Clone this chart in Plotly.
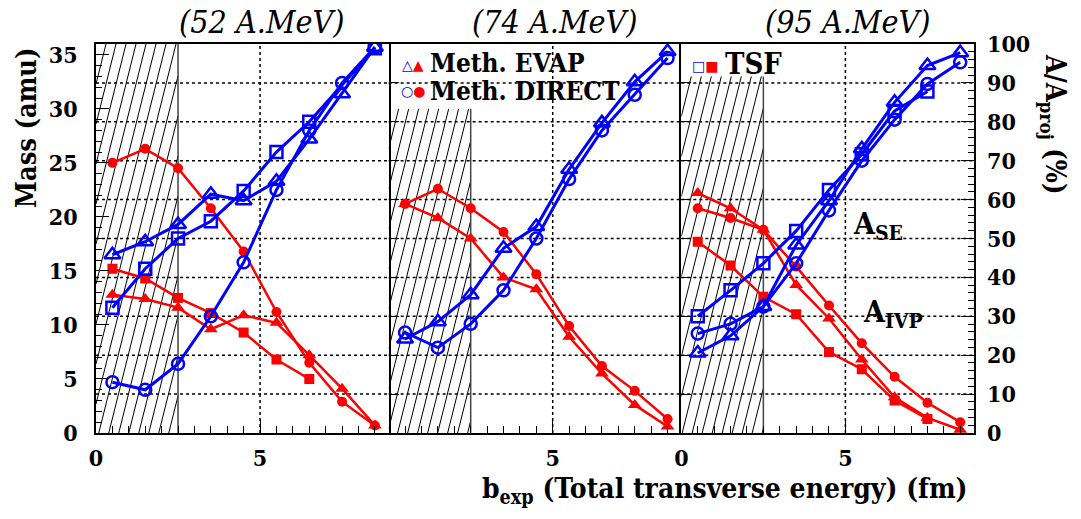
import plotly.graph_objects as go

# ---------------- data (mass in amu) ----------------
b_exp = [0.5, 1.5, 2.5, 3.5, 4.5, 5.5, 6.5, 7.5, 8.5]
energies = ["(52 A.MeV)", "(74 A.MeV)", "(95 A.MeV)"]

# 52 A.MeV
e52_evap_se = [16.5, 17.7, 19.3, 22.1, 21.5, 23.3, 27.2, 31.4, 35.7]
e52_evap_ivp = [12.8, 12.4, 11.6, 9.6, 10.9, 10.2, 7.2, 4.1, 0.7]
e52_direct_se = [4.7, 4.0, 6.4, 10.8, 15.8, 22.5, 28.0, 32.4, 35.7]
e52_direct_ivp = [25.0, 26.3, 24.5, 20.8, 16.8, 11.2, 6.5, 2.9, 0.7]
e52_tsf_se = [11.6, 15.2, 18.0, 19.6, 22.4, 26.0, 28.8, None, 35.6]
e52_tsf_ivp = [15.2, 14.3, 12.5, 11.1, 9.3, 6.8, 5.0, None, None]

# 74 A.MeV
e74_evap_se = [8.7, 10.3, 12.8, 17.1, 19.1, 24.4, 28.7, 32.5, 35.3]
e74_evap_ivp = [21.2, 19.9, 18.0, 14.4, 13.3, 8.9, 5.5, 2.6, 0.6]
e74_direct_se = [9.3, 7.9, 10.1, 13.2, 18.0, 23.5, 28.0, 31.3, 34.7]
e74_direct_ivp = [21.2, 22.6, 20.8, 18.6, 14.7, 9.9, 6.2, 3.9, 1.3]

# 95 A.MeV
e95_evap_se = [7.4, 9.0, 11.7, 17.4, 21.5, 26.3, 30.6, 34.0, 35.2]
e95_evap_ivp = [22.2, 20.8, 18.8, 13.7, 10.6, 6.8, 3.3, 1.4, 0.3]
e95_direct_se = [9.2, 10.1, 11.7, 15.7, 20.6, 25.2, 29.0, 32.3, 34.3]
e95_direct_ivp = [20.8, 19.9, 18.8, 15.4, 11.8, 8.3, 5.2, 2.8, 1.0]
e95_tsf_se = [10.8, 13.2, 15.7, 18.7, 22.5, 25.8, 29.8, 31.6, None]
e95_tsf_ivp = [17.7, 15.5, 12.6, 11.0, 7.5, 5.9, 3.0, 1.3, None]

A_PROJ = 36.0
mass_range = [0, 36.0]
pct_range = [0, 100]
pct_ticks = [10, 20, 30, 40, 50, 60, 70, 80, 90]
x_range = [0, 8.92]
hatch_xmax = 2.5
hatch_tops = [36.0, 30.0, 33.0]

# ---------------- geometry ----------------
W, H = 1081, 519
ML, MR, MT, MB = 96, 107, 44, 86
PW, PH = W - ML - MR, H - MT - MB


def px(xp):
    return (xp - ML) / PW


def py(yp):
    return 1 - (yp - MT) / PH


FONT = "DejaVu Serif Condensed, DejaVu Serif, serif"
BLUE = "#0000ff"
RED = "#ff0000"

fig = go.Figure()

panels = [
    dict(se=[("evap", e52_evap_se), ("direct", e52_direct_se), ("tsf", e52_tsf_se)],
         ivp=[("evap", e52_evap_ivp), ("direct", e52_direct_ivp), ("tsf", e52_tsf_ivp)]),
    dict(se=[("evap", e74_evap_se), ("direct", e74_direct_se)],
         ivp=[("evap", e74_evap_ivp), ("direct", e74_direct_ivp)]),
    dict(se=[("evap", e95_evap_se), ("direct", e95_direct_se), ("tsf", e95_tsf_se)],
         ivp=[("evap", e95_evap_ivp), ("direct", e95_direct_ivp), ("tsf", e95_tsf_ivp)]),
]

open_sym = {"evap": ("triangle-up-open", 14), "direct": ("circle-open", 12), "tsf": ("square-open", 12)}
fill_sym = {"evap": ("triangle-up", 12), "direct": ("circle", 10), "tsf": ("square", 10)}

# hatch decoration
pix_x_per_unit = PW / 3 / (x_range[1] - x_range[0])
pix_y_per_unit = PH / (mass_range[1] - mass_range[0])
k = 0.25 * pix_y_per_unit / pix_x_per_unit  # data-x shift per amu
spacing = 10.0 / pix_x_per_unit

for i, p in enumerate(panels):
    xa = "x" if i == 0 else f"x{i+1}"
    ya = "y" if i == 0 else f"y{i+1}"
    top = hatch_tops[i]
    hx, hy = [], []
    x0 = -k * top
    while x0 < hatch_xmax:
        ylo = max(0.0, (0.0 - x0) / k)
        yhi = min(top, (hatch_xmax - x0) / k)
        if ylo < yhi:
            hx += [x0 + k * ylo, x0 + k * yhi, None]
            hy += [ylo, yhi, None]
        x0 += spacing
    fig.add_trace(go.Scatter(x=hx, y=hy, mode="lines", xaxis=xa, yaxis=ya,
                             line=dict(color="black", width=1), hoverinfo="skip", showlegend=False))
    fig.add_trace(go.Scatter(x=[hatch_xmax, hatch_xmax], y=[0, top], mode="lines", xaxis=xa, yaxis=ya,
                             line=dict(color="#444444", width=1.5), hoverinfo="skip", showlegend=False))

    for meth, vals in p["ivp"]:
        sym, sz = fill_sym[meth]
        fig.add_trace(go.Scatter(x=b_exp, y=vals, mode="lines+markers", xaxis=xa, yaxis=ya,
                                 connectgaps=True,
                                 line=dict(color=RED, width=2.5),
                                 marker=dict(symbol=sym, size=sz, color=RED),
                                 showlegend=False))
    for meth, vals in p["se"]:
        sym, sz = open_sym[meth]
        fig.add_trace(go.Scatter(x=b_exp, y=vals, mode="lines+markers", xaxis=xa, yaxis=ya,
                                 connectgaps=True,
                                 line=dict(color=BLUE, width=3),
                                 marker=dict(symbol=sym, size=sz, color=BLUE,
                                             line=dict(color=BLUE, width=2.5)),
                                 showlegend=False))

# percent axis carrier (invisible trace)
fig.add_trace(go.Scatter(x=[None], y=[None], xaxis="x3", yaxis="y4", showlegend=False))

# grid lines
shapes = []
for i in range(3):
    xa = "x" if i == 0 else f"x{i+1}"
    ya = "y" if i == 0 else f"y{i+1}"
    for pc in pct_ticks:
        m = pc * A_PROJ / 100
        shapes.append(dict(type="line", xref=f"{xa} domain", yref=ya, x0=0, x1=1, y0=m, y1=m,
                           line=dict(color="black", width=1.5, dash="dot"), layer="below"))
    shapes.append(dict(type="line", xref=xa, yref=f"{ya} domain", x0=5, x1=5, y0=0, y1=1,
                       line=dict(color="black", width=1.5, dash="dot"), layer="below"))

tickfont = dict(family=FONT, size=23, color="black", weight="bold")
ax_common = dict(range=x_range, showline=True, mirror=True, linecolor="black", linewidth=1.5,
                 ticks="inside", ticklen=14, tickwidth=1.2, tickcolor="black", showgrid=False,
                 zeroline=False, tickfont=tickfont, ticklabelstandoff=4, automargin=False,
                 minor=dict(tickmode="linear", tick0=0, dtick=0.5, ticks="inside", ticklen=7,
                            tickcolor="black", tickwidth=1.2))
x_labels = [["0", "5"], ["", "5"], ["0", "5"]]
dom = [[0, 1/3], [1/3, 2/3], [2/3, 1]]
layout_axes = {}
for i in range(3):
    key = "xaxis" if i == 0 else f"xaxis{i+1}"
    layout_axes[key] = dict(ax_common, domain=dom[i], anchor="y" if i == 0 else f"y{i+1}",
                            tickmode="array", tickvals=[0, 5], ticktext=x_labels[i])

layout_axes["yaxis"] = dict(range=mass_range, anchor="x", showline=True, mirror=True, linecolor="black",
                            linewidth=1.5, ticks="inside", ticklen=13, tickwidth=1.2, tickcolor="black",
                            tickmode="linear", tick0=0, dtick=5, showgrid=False, zeroline=False,
                            tickfont=tickfont, ticklabelstandoff=12, automargin=False,
                            minor=dict(tickmode="linear", tick0=0, dtick=1, ticks="inside", ticklen=6,
                                       tickcolor="black", tickwidth=1.2))
for i in (2, 3):
    layout_axes[f"yaxis{i}"] = dict(range=mass_range, anchor=f"x{i}", showline=(i == 3), mirror=True,
                                    linecolor="black", linewidth=1.5, ticks="inside", ticklen=10,
                                    tickcolor="black", tickwidth=1.2, tickmode="array",
                                    tickvals=[pc * A_PROJ / 100 for pc in pct_ticks],
                                    showticklabels=False, showgrid=False, zeroline=False,
                                    automargin=False)
layout_axes["yaxis4"] = dict(range=pct_range, anchor="x3", overlaying="y3", side="right",
                             showline=False, ticks="inside", ticklen=13, tickwidth=1.2, tickcolor="black",
                             tickmode="linear", tick0=0, dtick=10, showgrid=False, zeroline=False,
                             tickfont=tickfont, ticklabelstandoff=12, automargin=False,
                             minor=dict(tickmode="linear", tick0=0, dtick=2, ticks="inside", ticklen=6,
                                        tickcolor="black", tickwidth=1.2))

ann = []
for i, t in enumerate(energies):
    xa = "x" if i == 0 else f"x{i+1}"
    ann.append(dict(text=t, xref=xa, yref="paper", x=5.05, y=py(22), xanchor="center", yanchor="middle",
                    showarrow=False, font=dict(family=FONT, size=32, color="black", style="italic")))

bold = lambda s: dict(family=FONT, size=s, color="black", weight="bold")
ann += [
    dict(text="Mass (amu)", xref="paper", yref="paper", x=px(26), y=py(128), textangle=-90,
         xanchor="center", yanchor="middle", showarrow=False, font=bold(27)),
    dict(text="A/A<sub>proj</sub> (%)", xref="paper", yref="paper", x=px(1054), y=py(124), textangle=90,
         xanchor="center", yanchor="middle", showarrow=False, font=bold(27)),
    dict(text="b<sub>exp</sub> (Total transverse energy) (fm)", xref="paper", yref="paper",
         x=px(970), y=py(490), xanchor="right", yanchor="middle", showarrow=False, font=bold(28)),
    # legend
    dict(text=f"<span style='color:{BLUE}'>△</span><span style='color:{RED}'>▲</span>",
         xref="paper", yref="paper", x=px(413), y=py(65), xanchor="center", yanchor="middle",
         showarrow=False, font=dict(family="DejaVu Sans", size=14)),
    dict(text="Meth. EVAP", xref="paper", yref="paper", x=px(428), y=py(63), xanchor="left",
         yanchor="middle", height=28, showarrow=False, font=bold(26)),
    dict(text=f"<span style='color:{BLUE}'>○</span><span style='color:{RED}'>●</span>",
         xref="paper", yref="paper", x=px(413), y=py(91), xanchor="center", yanchor="middle",
         showarrow=False, font=dict(family="DejaVu Sans", size=14)),
    dict(text="Meth. DIRECT", xref="paper", yref="paper", x=px(428), y=py(91), xanchor="left",
         yanchor="middle", height=28, showarrow=False, font=bold(26)),
    dict(text=f"<span style='color:{BLUE}'>□</span><span style='color:{RED}'>■</span>",
         xref="paper", yref="paper", x=px(705), y=py(66), xanchor="center", yanchor="middle",
         showarrow=False, font=dict(family="DejaVu Sans", size=14)),
    dict(text="TSF", xref="paper", yref="paper", x=px(723), y=py(64), xanchor="left",
         yanchor="middle", showarrow=False, font=bold(29)),
    dict(text="A<sub>SE</sub>", xref="paper", yref="paper", x=px(851), y=py(226), xanchor="left",
         yanchor="middle", showarrow=False, font=bold(30)),
    dict(text="A<sub>IVP</sub>", xref="paper", yref="paper", x=px(861), y=py(313), xanchor="left",
         yanchor="middle", showarrow=False, font=bold(30)),
]

fig.update_layout(width=W, height=H, margin=dict(l=ML, r=MR, t=MT, b=MB, autoexpand=False),
                  paper_bgcolor="white", plot_bgcolor="white", showlegend=False,
                  shapes=shapes, annotations=ann, **layout_axes)

fig.write_html("out.html", post_script="document.body.style.margin='0px';",
               config={"displayModeBar": False})
